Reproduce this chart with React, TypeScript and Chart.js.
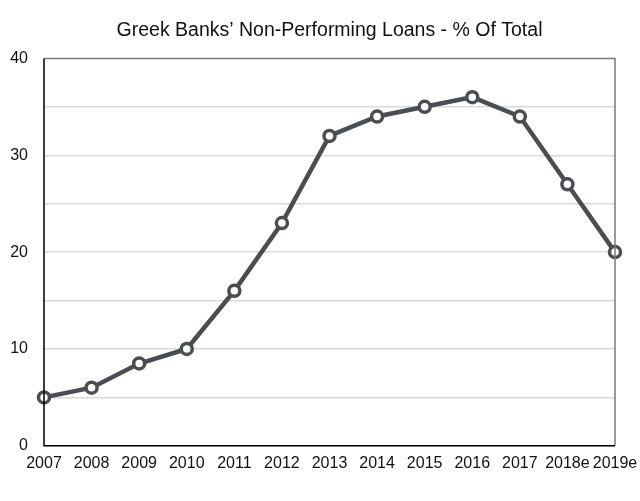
import React, { useEffect, useRef } from "react";
import { Chart, registerables } from "chart.js";

Chart.register(...registerables);

const years = ["2007", "2008", "2009", "2010", "2011", "2012", "2013", "2014", "2015", "2016", "2017", "2018e", "2019e"];
const nplPercent = [5, 6, 8.5, 10, 16, 23, 32, 34, 35, 36, 34, 27, 20];
const titleText = "Greek Banks\u2019 Non-Performing Loans - % Of Total";

const FONT = "'Liberation Sans', Arial, Helvetica, sans-serif";

const frame = {
  id: "frame",
  afterDraw(chart: any) {
    const { ctx, chartArea } = chart;
    ctx.save();
    ctx.strokeStyle = "#7a7a7a";
    ctx.lineWidth = 1.5;
    ctx.beginPath();
    ctx.moveTo(chartArea.left, chartArea.top);
    ctx.lineTo(chartArea.right, chartArea.top);
    ctx.lineTo(chartArea.right, chartArea.bottom);
    ctx.stroke();
    ctx.strokeStyle = "#000";
    ctx.beginPath();
    ctx.moveTo(chartArea.left, chartArea.top);
    ctx.lineTo(chartArea.left, chartArea.bottom);
    ctx.lineTo(chartArea.right, chartArea.bottom);
    ctx.stroke();
    ctx.restore();
  },
};

export default function App() {
  const ref = useRef<HTMLCanvasElement>(null);
  useEffect(() => {
    if (!ref.current) return;
    const chart = new Chart(ref.current, {
      type: "line",
      data: {
        labels: years,
        datasets: [
          {
            data: nplPercent,
            borderColor: "#4a4d52",
            borderWidth: 4.5,
            pointRadius: 5.5,
            pointBorderWidth: 3.5,
            pointBackgroundColor: "#ffffff",
            pointBorderColor: "#4a4d52",
            tension: 0,
            clip: false,
          },
        ],
      },
      options: {
        animation: false,
        responsive: false,
        layout: { padding: { top: 0, right: 25, bottom: 20, left: 0 } },
        plugins: {
          legend: { display: false },
          tooltip: { enabled: false },
          title: {
            display: true,
            text: titleText,
            fullSize: false,
            color: "#111",
            font: { family: FONT, size: 19.5, weight: "normal" },
            padding: { top: 19, bottom: 16 },
          },
        },
        scales: {
          x: {
            offset: false,
            grid: { display: false, drawTicks: false },
            border: { display: false },
            afterFit: (s: any) => {
              s.paddingLeft = 0;
              s.paddingRight = 0;
            },
            ticks: {
              color: "#111",
              font: { family: FONT, size: 16 },
              padding: 8,
              maxRotation: 0,
              autoSkip: false,
            },
          },
          y: {
            min: 0,
            max: 40,
            afterFit: (s: any) => {
              s.width = 44;
            },
            grid: {
              color: (c: any) => (c.tick && c.tick.value === 40 ? "rgba(0,0,0,0)" : "#d9d9d9"),
              lineWidth: 1.5,
              drawTicks: false,
            },
            border: { display: false },
            ticks: {
              stepSize: 5,
              color: "#111",
              font: { family: FONT, size: 16 },
              padding: 16,
              callback: (v: any) => (Number(v) % 10 === 0 ? String(v) : ""),
            },
          },
        },
      },
      plugins: [frame],
    });
    return () => chart.destroy();
  }, []);
  return (
    <div style={{ position: "fixed", left: 0, top: 0, width: 640, height: 501, background: "#fff" }}>
      <canvas ref={ref} width={640} height={501} style={{ display: "block" }} />
    </div>
  );
}
